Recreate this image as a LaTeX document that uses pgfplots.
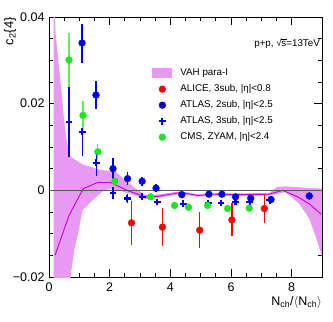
\documentclass[border=0pt]{standalone}
\usepackage{pgfplots}
\pgfplotsset{compat=1.18}
\usepackage{fontspec}
\setmainfont{Liberation Sans}

\definecolor{vahband}{RGB}{232,153,242}
\definecolor{vahline}{RGB}{195,0,225}
\definecolor{rootred}{RGB}{255,0,0}
\definecolor{rootblue}{RGB}{0,0,235}
\definecolor{rootgreen}{RGB}{30,230,30}

\pgfplotsset{
  markleg/.style={legend image code/.code={%
    \draw[mark repeat=2,mark phase=2] plot coordinates {(0pt,0pt) (10pt,0pt) (20pt,0pt)};}},
  errs/.style={error bars/.cd, y dir=both, y explicit, error mark=none,
    error bar style={line width=1.3pt, #1}},
}

\begin{document}
\begin{tikzpicture}
\useasboundingbox (-49pt,-45pt) rectangle (284pt,277pt);
\begin{axis}[
  scale only axis, width=273pt, height=260pt,
  xmin=0, xmax=9, ymin=-0.02, ymax=0.04,
  xtick={0,2,4,6,8}, xticklabels={0,2,4,6,8},
  ytick={-0.02,0,0.02,0.04}, yticklabels={−0.02,0,0.02,0.04},
  scaled y ticks=false,
  minor x tick num=3, minor y tick num=3,
  tick align=inside, tick pos=both,
  major tick length=8pt, minor tick length=4pt,
  axis line style={line width=0.8pt},
  every tick/.style={black, line width=0.8pt},
  tick label style={font=\fontsize{12.5}{14}\selectfont},
  xticklabel style={yshift=-2pt},
  yticklabel style={xshift=-1pt},
  xlabel={N\textsubscript{ch}/$\langle$N\textsubscript{ch}$\rangle$},
  xlabel style={font=\fontsize{12.5}{14}\selectfont, at={(axis description cs:1,-0.075)}, anchor=north east, inner sep=0pt},
  ylabel={c\textsubscript{2}\{4\}},
  ylabel style={font=\fontsize{13}{15}\selectfont, at={(axis description cs:-0.143,1)}, anchor=east, inner sep=0pt},
  legend cell align=left,
  legend style={at={(rel axis cs:0.378,0.805)}, anchor=north west, draw=none, fill=none,
    inner sep=0pt, row sep=5.5pt, font=\fontsize{9.8}{11}\selectfont,
    nodes={inner sep=0pt, text height=8pt, text depth=2.5pt},
    /tikz/every odd column/.append style={column sep=8pt}},
]
% VAH para-I band
\addplot[fill=vahband, draw=none,
  legend image code/.code={\fill[vahband] (0pt,-5pt) rectangle (20pt,5pt);}]
  coordinates {
  (0.15,0.046) (0.22,0.036) (0.33,0.0285) (0.44,0.0208) (0.5,0.016) (0.56,0.0125)
  (0.66,0.0085) (0.72,0.0077) (1.1,0.0060) (1.65,0.0048) (2.2,0.0042) (2.53,0.0023)
  (2.86,0.0004) (3.19,-0.0011) (3.57,-0.0010) (4.35,-0.0002) (4.9,-0.0009) (5.39,-0.0006)
  (6.16,-0.0007) (7.26,-0.0006) (7.53,0.0008) (7.8,0.0009) (8.5,0.0006) (9.0,0.0004)
  (9.0,-0.016) (8.97,-0.0146) (8.8,-0.0108) (8.58,-0.0065) (8.25,-0.0031) (7.8,-0.0004)
  (7.5,-0.0009) (7.26,-0.0012) (6.16,-0.0013) (5.39,-0.0012) (4.9,-0.0015) (4.35,-0.0008)
  (3.57,-0.0018) (3.19,-0.0020) (2.75,-0.0010) (2.4,-0.0002) (2.03,0.0004) (1.82,0.0)
  (1.6,-0.0012) (1.32,-0.0031) (1.1,-0.0046) (0.99,-0.0089) (0.83,-0.0139) (0.72,-0.0193)
  (0.68,-0.025) (0.15,-0.025)
};
\addlegendentry{VAH para-I}
% VAH central line
\addplot[vahline, line width=0.9pt, forget plot] coordinates {
  (0.2,-0.015) (0.66,-0.0058) (1.13,0.0004) (1.6,0.0018) (2.03,0.0018) (2.64,-0.0002)
  (3.19,-0.0015) (3.57,-0.0014) (4.35,-0.0005) (4.9,-0.0012) (5.39,-0.0009) (6.16,-0.0010)
  (7.26,-0.0009) (7.7,0.0) (8.2,-0.0015) (8.58,-0.0031) (8.97,-0.0055)
};
% zero line
\addplot[black!65, line width=1.2pt, forget plot] coordinates {(0,0) (9,0)};

% ALICE, 3sub
\addplot[rootred, only marks, mark=*, mark size=3.4pt, markleg, errs=rootred]
  table[x=x, y=y, y error=ey] {
  x     y        ey
  2.72  -0.0075  0.0051
  3.74  -0.0085  0.0044
  4.97  -0.0092  0.0042
  6.03  -0.0068  0.0038
  7.10  -0.0042  0.0034
};
\addlegendentry{ALICE, 3sub, |η|<0.8}
% ATLAS, 2sub
\addplot[rootblue, only marks, mark=*, mark size=3.4pt, markleg, errs=rootblue]
  table[x=x, y=y, y error=ey] {
  x     y        ey
  1.09   0.0340  0.0045
  1.55   0.0220  0.0032
  2.11   0.0050  0.0024
  2.59   0.0027  0.0015
  3.07   0.0021  0.0010
  3.53   0.0005  0.0009
  4.38  -0.0010  0.0007
  5.27  -0.0009  0.0007
  5.70  -0.0009  0.0007
  6.15  -0.0015  0.0007
  6.65  -0.0018  0.0007
  7.32  -0.0021  0.0007
  8.58  -0.0013  0.0010
};
\addlegendentry{ATLAS, 2sub, |η|<2.5}
% ATLAS, 3sub
\addplot[rootblue, only marks, mark=+, mark size=3.4pt, mark options={line width=2.2pt}, markleg, errs=rootblue]
  table[x=x, y=y, y error=ey] {
  x     y        ey
  0.66   0.0158  0.0080
  1.10   0.0135  0.0055
  1.56   0.0064  0.0030
  2.11  -0.0006  0.0014
  2.58  -0.0019  0.0010
  3.07  -0.0015  0.0008
  3.57  -0.0027  0.0007
  4.43  -0.0031  0.0006
  5.25  -0.0029  0.0006
  5.67  -0.0029  0.0006
  6.15  -0.0027  0.0006
  6.62  -0.0027  0.0006
  7.28  -0.0023  0.0006
};
\addlegendentry{ATLAS, 3sub, |η|<2.5}
% CMS, ZYAM
\addplot[rootgreen, only marks, mark=*, mark size=3.4pt, markleg, errs=rootgreen!70!white]
  table[x=x, y=y, y error=ey] {
  x     y        ey
  0.66   0.0301  0.0063
  1.12   0.0173  0.0034
  1.61   0.0089  0.0017
  2.17   0.0021  0.0008
  3.35  -0.0015  0.0005
  4.14  -0.0035  0.0005
  4.60  -0.0039  0.0005
  5.23  -0.0035  0.0005
  5.89  -0.0042  0.0005
  6.60  -0.0041  0.0005
};
\addlegendentry{CMS,  ZYAM, |η|<2.4}

\node[anchor=east, inner sep=0pt, font=\fontsize{9.8}{11}\selectfont]
  at (rel axis cs:0.993,0.896) {p+p, √\kern-0.3pt\rlap{\rule[7.2pt]{5.2pt}{0.5pt}}s=13TeV};
\node[anchor=south west, inner sep=0pt, font=\fontsize{11}{12}\selectfont]
  at (rel axis cs:0,1.01) {×10\textsuperscript{−3}};
\end{axis}
\end{tikzpicture}
\end{document}
